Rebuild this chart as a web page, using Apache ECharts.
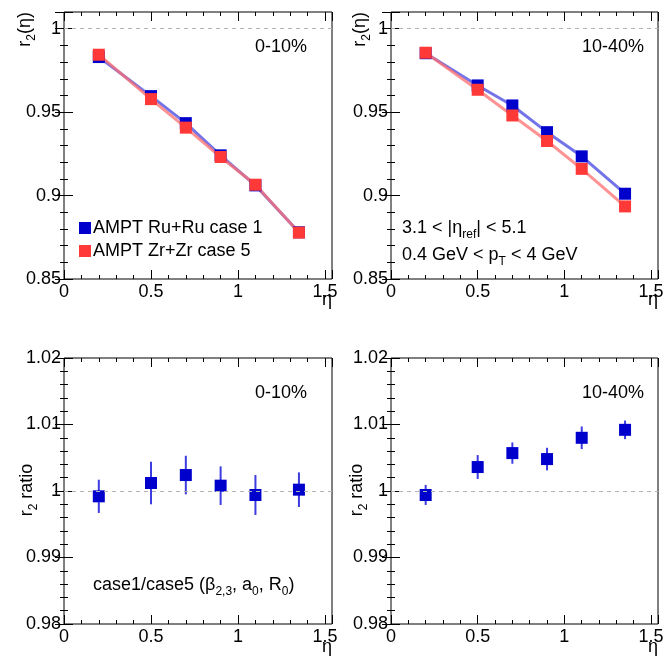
<!DOCTYPE html>
<html>
<head>
<meta charset="utf-8">
<script src="https://cdn.jsdelivr.net/npm/echarts@6/dist/echarts.min.js"></script>
<style>
  html, body { margin: 0; padding: 0; background: #fff; }
  #chart { width: 670px; height: 661px; }
</style>
</head>
<body>
<div id="chart"></div>
<script>
// eta bins shared by every panel
const eta = [0.2, 0.5, 0.7, 0.9, 1.1, 1.35];

// r2(eta), 0-10%
const ru0_10 = [0.983, 0.9596, 0.9434, 0.9241, 0.9061, 0.878];
const zr0_10 = [0.9844, 0.9578, 0.9407, 0.9231, 0.9065, 0.8778];

// r2(eta), 10-40%
const ru10_40 = [0.9853, 0.966, 0.954, 0.938, 0.9235, 0.9011];
const zr10_40 = [0.9856, 0.9634, 0.948, 0.9327, 0.916, 0.8935];

// ratio case1/case5 with errors
const ratio0_10 = [0.9992, 1.0012, 1.0024, 1.0008, 0.9994, 1.0002];
const ratioErr0_10 = [0.0025, 0.0032, 0.0029, 0.0029, 0.003, 0.0026];
const ratio10_40 = [0.9994, 1.0036, 1.0057, 1.0048, 1.008, 1.0092];
const ratioErr10_40 = [0.0015, 0.0018, 0.0016, 0.0017, 0.0017, 0.0014];

const seriesNames = ["AMPT Ru+Ru case 1", "AMPT Zr+Zr case 5"];

const FONT = "'Liberation Sans', Arial, sans-serif";
const BLUE = "#0000cc";
const RED = "#ff3838";

let chart = echarts.init(document.getElementById("chart"), null, { renderer: "canvas" });

let grids = [
  { left: 64, top: 12, width: 268, height: 267 },
  { left: 391, top: 12, width: 267, height: 267 },
  { left: 64, top: 358, width: 268, height: 266 },
  { left: 391, top: 358, width: 267, height: 266 },
];

// only label values sitting on the major step (hides the extent tick)
let onStep = (step) => (v) => {
  let k = v / step;
  return Math.abs(k - Math.round(k)) < 1e-6 ? String(+v.toFixed(4)) : "";
};

let makeAxis = (gi, position, min, max, interval, major, labels) => ({
  gridIndex: gi,
  type: "value",
  position: position,
  min: min,
  max: max,
  interval: interval,
  axisLine: { show: false },
  splitLine: { show: false },
  axisTick: { show: true, inside: true, length: major ? 9 : 4, lineStyle: { color: "#000", width: 1 } },
  axisLabel: labels
    ? { show: true, fontSize: 18, fontFamily: FONT, color: "#000", margin: position == "left" ? 3 : 4, formatter: onStep(interval) }
    : { show: false },
});

let xAxes = [];
let yAxes = [];
grids.forEach((g, gi) => {
  xAxes.push(makeAxis(gi, "bottom", 0, 1.54, 0.5, true, true));
  xAxes.push(makeAxis(gi, "bottom", 0, 1.54, 0.1, false, false));
  xAxes.push(makeAxis(gi, "top", 0, 1.54, 0.5, true, false));
  xAxes.push(makeAxis(gi, "top", 0, 1.54, 0.1, false, false));
  let top = gi < 2;
  let ymin = top ? 0.85 : 0.98;
  let ymax = top ? 1.01 : 1.02;
  let yMajor = top ? 0.05 : 0.01;
  let yMinor = top ? 0.01 : 0.002;
  yAxes.push(makeAxis(gi, "left", ymin, ymax, yMajor, true, true));
  yAxes.push(makeAxis(gi, "left", ymin, ymax, yMinor, false, false));
  yAxes.push(makeAxis(gi, "right", ymin, ymax, yMajor, true, false));
  yAxes.push(makeAxis(gi, "right", ymin, ymax, yMinor, false, false));
});

let unityLine = {
  silent: true,
  symbol: "none",
  label: { show: false },
  lineStyle: { color: "#b4b4b4", type: [4, 4], width: 1 },
  data: [{ yAxis: 1 }],
};

let lineSeries = (gi, name, values, markerColor, lineColor, withUnity) => ({
  type: "line",
  name: name,
  xAxisIndex: gi * 4,
  yAxisIndex: gi * 4,
  data: eta.map((x, i) => [x, values[i]]),
  symbol: "rect",
  symbolSize: 12,
  showAllSymbol: true,
  itemStyle: { color: markerColor, opacity: 1 },
  lineStyle: { color: lineColor, width: 3 },
  markLine: withUnity ? unityLine : undefined,
  z: 3,
});

let errorSeries = (gi, values, errs) => ({
  type: "custom",
  xAxisIndex: gi * 4,
  yAxisIndex: gi * 4,
  data: eta.map((x, i) => [x, values[i], errs[i]]),
  encode: { x: 0, y: 1 },
  renderItem: (params, api) => {
    let x = api.value(0);
    let y = api.value(1);
    let e = api.value(2);
    let p1 = api.coord([x, y + e]);
    let p2 = api.coord([x, y - e]);
    return {
      type: "line",
      shape: { x1: p1[0], y1: p1[1], x2: p2[0], y2: p2[1] },
      style: { stroke: "#3c3ce0", lineWidth: 2 },
    };
  },
  markLine: unityLine,
  z: 2,
});

let ratioSeries = (gi, values) => ({
  type: "scatter",
  xAxisIndex: gi * 4,
  yAxisIndex: gi * 4,
  data: eta.map((x, i) => [x, values[i]]),
  symbol: "rect",
  symbolSize: 12,
  itemStyle: { color: BLUE, opacity: 1 },
  z: 4,
});

let txt = (x, y, text, align, extra) =>
  Object.assign(
    {
      type: "text",
      x: x,
      y: y,
      style: {
        text: text,
        fontSize: 18,
        fontFamily: FONT,
        fill: "#000",
        align: align,
        verticalAlign: "middle",
        rich: {
          n: { fontSize: 18, fontFamily: FONT, color: "#000", lineHeight: 26 },
          s: { fontSize: 12, fontFamily: FONT, color: "#000", verticalAlign: "bottom", lineHeight: 14 },
        },
      },
    },
    extra || {}
  );

let r2Title = "{n|r}{s|2}{n|(η)}";
let ratioTitle = "{n|r}{s|2}{n| ratio}";

let option = {
  animation: false,
  backgroundColor: "#fff",
  grid: grids.map((g) => Object.assign({ show: true, borderColor: "#000", borderWidth: 1, backgroundColor: "transparent" }, g)),
  xAxis: xAxes,
  yAxis: yAxes,
  legend: {
    data: seriesNames,
    orient: "vertical",
    left: 74,
    top: 214,
    icon: "rect",
    itemWidth: 12,
    itemHeight: 12,
    itemGap: 5,
    textStyle: { fontSize: 18, fontFamily: FONT, color: "#000", padding: [0, 0, 0, -3] },
  },
  series: [
    lineSeries(0, seriesNames[0], ru0_10, BLUE, "rgba(70,70,225,0.75)", true),
    lineSeries(0, seriesNames[1], zr0_10, RED, "rgba(255,110,110,0.75)", false),
    lineSeries(1, seriesNames[0], ru10_40, BLUE, "rgba(70,70,225,0.75)", true),
    lineSeries(1, seriesNames[1], zr10_40, RED, "rgba(255,110,110,0.75)", false),
    errorSeries(2, ratio0_10, ratioErr0_10),
    ratioSeries(2, ratio0_10),
    errorSeries(3, ratio10_40, ratioErr10_40),
    ratioSeries(3, ratio10_40),
  ],
  graphic: [
    // y titles
    txt(25, 12, r2Title, "right", { rotation: Math.PI / 2 }),
    txt(360, 12, r2Title, "right", { rotation: Math.PI / 2 }),
    txt(27, 490, ratioTitle, "center", { rotation: Math.PI / 2 }),
    txt(357, 490, ratioTitle, "center", { rotation: Math.PI / 2 }),
    // x titles
    txt(332, 300, "η", "right"),
    txt(658, 300, "η", "right"),
    txt(332, 647, "η", "right"),
    txt(658, 647, "η", "right"),
    // centrality labels
    txt(307, 47, "0-10%", "right"),
    txt(644, 47, "10-40%", "right"),
    txt(307, 393, "0-10%", "right"),
    txt(644, 393, "10-40%", "right"),
    // cuts
    txt(402, 228, "{n|3.1 < |η}{s|ref}{n|| < 5.1}", "left"),
    txt(402, 255, "{n|0.4 GeV < p}{s|T}{n| < 4 GeV}", "left"),
    txt(93, 585, "{n|case1/case5 (β}{s|2,3}{n|, a}{s|0}{n|, R}{s|0}{n|)}", "left"),
  ],
};

chart.setOption(option);
</script>
</body>
</html>
